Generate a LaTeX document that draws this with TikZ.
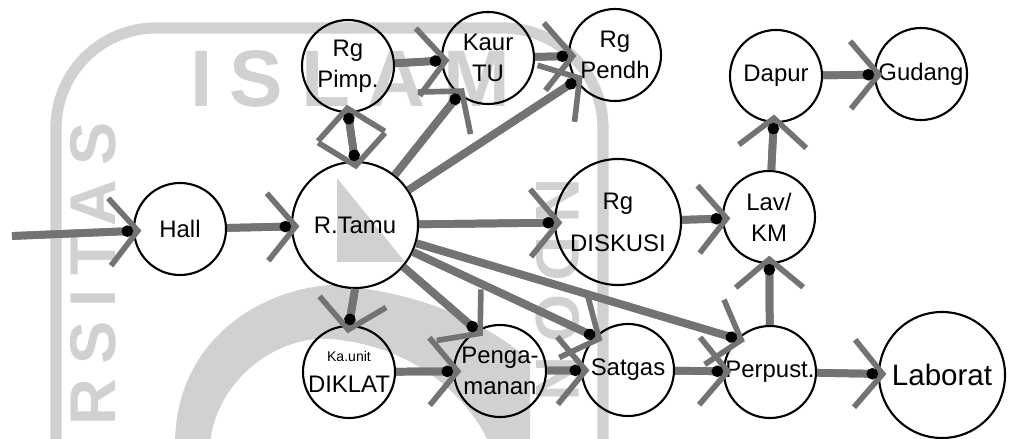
\documentclass[tikz,border=0pt]{standalone}
\usepackage{fontspec}
\setmainfont{Liberation Sans}
\newfontfamily\wmfont[LetterSpace=22]{Liberation Sans}
\usetikzlibrary{arrows.meta}

\tikzset{
  barbs/.tip={Straight Barb[length=20pt,width=48pt,line width=4pt]},
  blob/.tip={Circle[length=8pt,color=black,fill=black]},
  room/.style={draw, circle, line width=1.5pt, minimum size=2.3cm, inner sep=0pt, align=center, font=\fontsize{17}{22}\selectfont},
  bigroom/.style={room, minimum size=3.15cm},
  flow/.style={draw=black!55, line width=5.5pt, -barbs, shorten >=-6pt, postaction={draw, -blob, shorten >=0pt}},
  twoway/.style={draw=black!55, line width=5.5pt, barbs-barbs, shorten >=-6pt, shorten <=-6pt, postaction={draw, blob-blob, shorten >=0pt, shorten <=0pt}},
  wmark/.style={black!18},
}

\begin{document}
\begin{tikzpicture}[x=0.025cm, y=-0.025cm]
  \useasboundingbox (0,0) rectangle (1014,439);

  % watermark
  \draw[wmark, line width=0.28cm, rounded corners=2.5cm] (56,445) -- (56,28) -- (603,28) -- (603,445);
  \fill[wmark, even odd rule] (175,445) .. controls (175,340) and (260,290) .. (330,285) .. controls (400,290) and (470,310) .. (530,360) -- (530,445) -- cycle
    (210,445) .. controls (215,380) and (280,330) .. (340,340) .. controls (420,350) and (470,400) .. (490,445) -- cycle;
  \fill[wmark] (337,178) -- (405,262) -- (337,262) -- cycle;
  \node[wmark, font=\wmfont\bfseries\fontsize{57}{60}\selectfont] (wmtop) at (350,79) {ISLAM};
  \node[wmark, rotate=90, font=\wmfont\bfseries\fontsize{46}{50}\selectfont] (wmleft) at (93,274) {RSITAS};
  \node[wmark, rotate=-90, font=\wmfont\bfseries\fontsize{44}{50}\selectfont] (wmright) at (558,290) {NDON};

  \node[room] (hall) at (180,229) {Hall};
  \node[bigroom] (tamu) at (355,225) {R.Tamu};
  \node[room] (pimp) at (348,66) {Rg\\Pimp.};
  \node[room] (kaur) at (488,58) {Kaur\\TU};
  \node[room] (pendh) at (615,55) {Rg\\Pendh};
  \node[room] (dapur) at (776,76) {Dapur};
  \node[room] (gudang) at (921,74) {Gudang};
  \node[bigroom] (diskusi) at (618,222) {Rg\\[8pt]DISKUSI};
  \node[room] (lav) at (769,217) {Lav/\\KM};
  \node[room] (diklat) at (349,372) {{\fontsize{10}{12}\selectfont Ka.unit}\\DIKLAT};
  \node[room] (penga) at (500,371) {Penga-\\manan};
  \node[room] (satgas) at (628,370) {Satgas};
  \node[room] (perpust) at (770,372) {Perpust.};
  \node[bigroom, font=\fontsize{21}{24}\selectfont] (laborat) at (942,375) {Laborat};

  \coordinate (door) at (12,236);

  \draw[flow] (door) -- (hall);
  \draw[flow] (hall) -- (tamu);
  \draw[twoway] (pimp.south) -- (tamu.north);
  \draw[flow] (pimp) -- (kaur);
  \draw[flow] (kaur) -- (pendh);
  \draw[flow] (tamu) -- (kaur);
  \draw[flow] (tamu) -- (pendh);
  \draw[flow] (tamu) -- (diskusi);
  \draw[flow] (tamu) -- (perpust.north west);
  \draw[flow] (tamu) -- (satgas.north west);
  \draw[flow] (tamu) -- (penga.120);
  \draw[flow] (tamu.south) -- (diklat.north);
  \draw[flow] (diklat) -- (penga);
  \draw[flow] (penga) -- (satgas);
  \draw[flow] (satgas) -- (perpust);
  \draw[flow] (perpust) -- (laborat);
  \draw[flow] (perpust) -- (lav);
  \draw[flow] (diskusi) -- (lav);
  \draw[flow] (lav) -- (dapur);
  \draw[flow] (dapur) -- (gudang);
\end{tikzpicture}
\end{document}
